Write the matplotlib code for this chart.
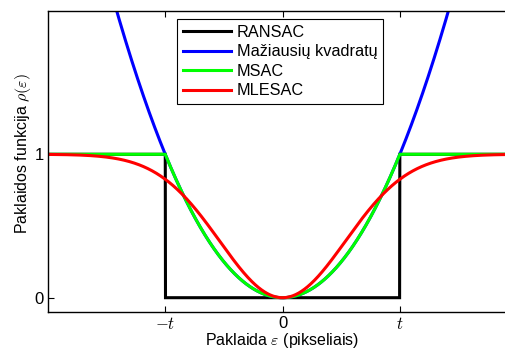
import numpy as np
import matplotlib
matplotlib.use("Agg")
import matplotlib.pyplot as plt

plt.rcParams['font.family'] = ['Liberation Sans', 'DejaVu Sans']
plt.rcParams['mathtext.fontset'] = 'cm'

# Chart parameters
threshold_t = 1.0          # inlier threshold t
mlesac_sigma = 0.535       # MLESAC scale (rho(t) ~ 0.83)
x_limits = [-2.0, 2.0]
y_limits = [-0.1, 2.0]
x_ticks = [-1.0, 0.0, 1.0]
x_tick_labels = [r'$-t$', '0', r'$t$']
y_ticks = [0, 1]
y_tick_labels = ['0', '1']
series_names = ['RANSAC', 'Mažiausių kvadratų', 'MSAC', 'MLESAC']
series_colors = ['#000000', '#0000ff', '#00ff00', '#ff0000']
x_label = r'Paklaida $\varepsilon$ (pikseliais)'
y_label = r'Paklaidos funkcija $\rho(\varepsilon)$'

eps = np.linspace(x_limits[0], x_limits[1], 2001)
ransac = np.where(np.abs(eps) < threshold_t, 0.0, 1.0)
least_squares = (eps / threshold_t) ** 2
msac = np.minimum(least_squares, 1.0)
mlesac = 1.0 - np.exp(-eps ** 2 / (2 * mlesac_sigma ** 2))
series = [ransac, least_squares, msac, mlesac]

fig = plt.figure(figsize=(5.05, 3.51), dpi=100)
ax = fig.add_axes([0.095, 0.111, 0.929, 0.858])

for y, name, c in zip(series, series_names, series_colors):
    ax.plot(eps, y, color=c, lw=2.2, label=name, solid_joinstyle='miter')

ax.set_xlim(x_limits)
ax.set_ylim(y_limits)
ax.set_xticks(x_ticks)
ax.set_xticklabels(x_tick_labels)
ax.set_yticks(y_ticks)
ax.set_yticklabels(y_tick_labels)
ax.tick_params(direction='in', top=True, right=True, length=4, width=0.8,
               labelsize=12, pad=3)
for s in ax.spines.values():
    s.set_linewidth(1.0)
ax.set_xlabel(x_label, fontsize=11.5, labelpad=-1)
ax.set_ylabel(y_label, fontsize=11.5)
ax.yaxis.set_label_coords(-0.031, 0.527)

leg = ax.legend(loc='upper left', bbox_to_anchor=(0.275, 0.973), fontsize=11.7,
                handlelength=3.0, handletextpad=0.35, labelspacing=0.28,
                borderpad=0.35, borderaxespad=0, fancybox=False, framealpha=1,
                edgecolor='black')
leg.get_frame().set_linewidth(0.8)

fig.savefig('out.png', dpi=100)
